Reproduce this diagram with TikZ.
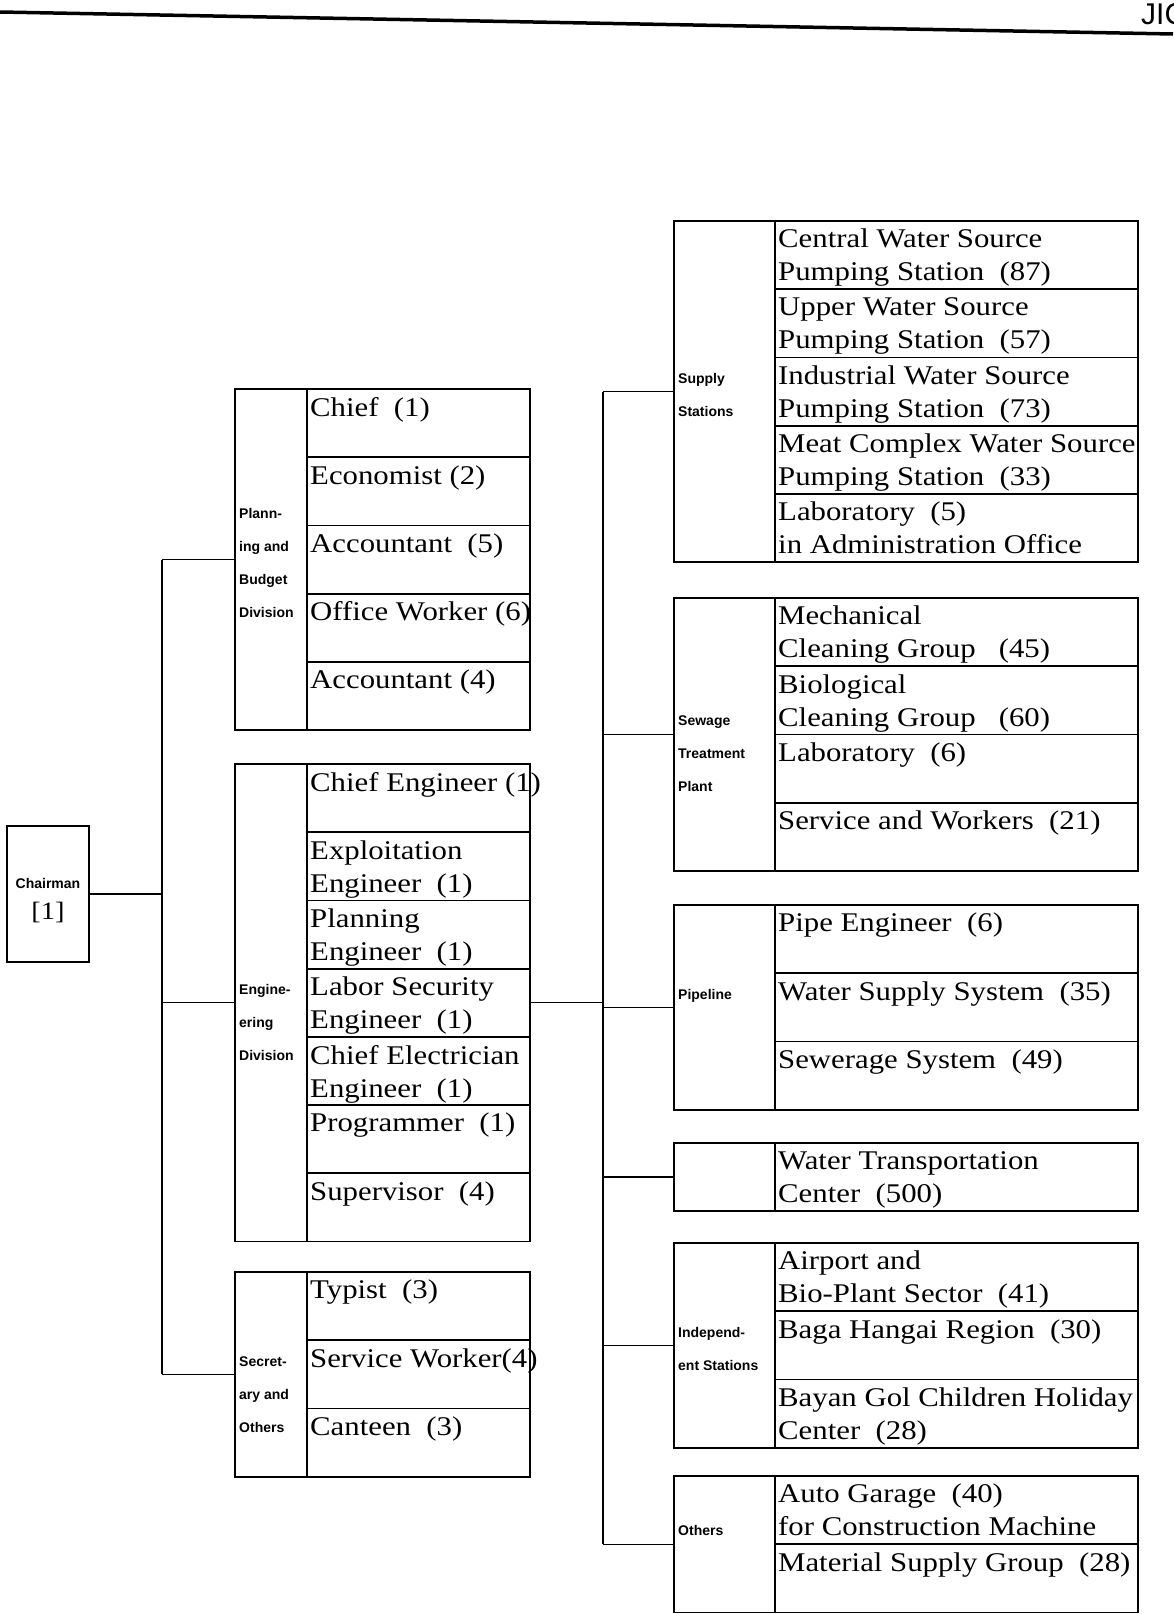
\documentclass[tikz,border=0pt]{standalone}
\usepackage{fontspec}
\setmainfont{Liberation Serif}[FakeStretch=1.14]
\newfontfamily\lblfont{Liberation Sans}
\usetikzlibrary{positioning}

\tikzset{
  conn/.style={line width=1.3pt},
  divbox/.style={draw, line width=1.8pt, anchor=north west, inner sep=0pt, outer sep=0pt, minimum width=72pt},
  divboxR/.style={divbox, minimum width=101pt},
  rowL/.style={draw, line width=1.8pt, inner sep=0pt, outer sep=0pt, minimum width=223pt, minimum height=68.2pt},
  rowR/.style={draw, line width=1.8pt, inner sep=0pt, outer sep=0pt, minimum width=363pt, minimum height=68.2pt},
  rtxt/.style={anchor=north west, inner sep=0pt, xshift=3pt, yshift=-8pt, align=left,
    font=\fontsize{27}{33}\selectfont},
  dlbl/.style={anchor=north west, inner sep=0pt, yshift=-14pt, align=left,
    font=\lblfont\bfseries\fontsize{14}{33}\selectfont},
}

\begin{document}
\begin{tikzpicture}[x=1pt, y=-1pt]
\useasboundingbox (0,0) rectangle (1173,1614);

% Cabecera
\draw[line width=3.5pt] (0,12) -- (1173,34);
\node[anchor=base west, inner sep=0pt, font=\lblfont\fontsize{30}{30}\selectfont] (logo) at (1141,24) {JICA};

% Presidente
\node[divbox, minimum width=82pt, minimum height=136pt] (chair) at (7,826) {};
\node[font=\lblfont\bfseries\fontsize{14}{16}\selectfont, inner sep=0pt] (chairt) at ([yshift=11pt]chair.center) {Chairman};
\node[font=\fontsize{25}{30}\selectfont, inner sep=0pt] (chairn) at ([yshift=-18pt]chair.center) {[1]};

% Planificacion
\node[divbox, minimum height=341pt] (plan) at (235,389) {};
\node[dlbl] (planl) at (239,494.4) {Plann-\\ing and\\Budget\\Division};
\node[rowL, anchor=north west] (plan1) at (plan.north east) {};
\node[rowL, below=0pt of plan1] (plan2) {};
\node[rowL, below=0pt of plan2] (plan3) {};
\node[rowL, below=0pt of plan3] (plan4) {};
\node[rowL, below=0pt of plan4] (plan5) {};
\node[rtxt] (plan1t) at (plan1.north west) {Chief~~(1)};
\node[rtxt] (plan2t) at (plan2.north west) {Economist (2)};
\node[rtxt] (plan3t) at (plan3.north west) {Accountant~~(5)};
\node[rtxt] (plan4t) at (plan4.north west) {Office Worker (6)};
\node[rtxt] (plan5t) at (plan5.north west) {Accountant (4)};

% Ingenieria
\node[divbox, minimum height=477.4pt] (eng) at (235,764) {};
\node[dlbl] (engl) at (239,970.6) {Engine-\\ering\\Division};
\node[rowL, anchor=north west] (eng1) at (eng.north east) {};
\node[rowL, below=0pt of eng1] (eng2) {};
\node[rowL, below=0pt of eng2] (eng3) {};
\node[rowL, below=0pt of eng3] (eng4) {};
\node[rowL, below=0pt of eng4] (eng5) {};
\node[rowL, below=0pt of eng5] (eng6) {};
\node[rowL, below=0pt of eng6] (eng7) {};
\node[rtxt] (eng1t) at (eng1.north west) {Chief Engineer (1)};
\node[rtxt] (eng2t) at (eng2.north west) {Exploitation\\Engineer~~(1)};
\node[rtxt] (eng3t) at (eng3.north west) {Planning\\Engineer~~(1)};
\node[rtxt] (eng4t) at (eng4.north west) {Labor Security\\Engineer~~(1)};
\node[rtxt] (eng5t) at (eng5.north west) {Chief Electrician\\Engineer~~(1)};
\node[rtxt] (eng6t) at (eng6.north west) {Programmer~~(1)};
\node[rtxt] (eng7t) at (eng7.north west) {Supervisor~~(4)};

% Secretaria
\node[divbox, minimum height=204.6pt] (sec) at (235,1272) {};
\node[dlbl] (secl) at (239,1342.2) {Secret-\\ary and\\Others};
\node[rowL, anchor=north west] (sec1) at (sec.north east) {};
\node[rowL, below=0pt of sec1] (sec2) {};
\node[rowL, below=0pt of sec2] (sec3) {};
\node[rtxt] (sec1t) at (sec1.north west) {Typist~~(3)};
\node[rtxt] (sec2t) at (sec2.north west) {Service Worker(4)};
\node[rtxt] (sec3t) at (sec3.north west) {Canteen~~(3)};

% Estaciones de suministro
\node[divboxR, minimum height=341pt] (sup) at (674,221) {};
\node[dlbl] (supl) at (678,359.4) {Supply\\Stations};
\node[rowR, anchor=north west] (sup1) at (sup.north east) {};
\node[rowR, below=0pt of sup1] (sup2) {};
\node[rowR, below=0pt of sup2] (sup3) {};
\node[rowR, below=0pt of sup3] (sup4) {};
\node[rowR, below=0pt of sup4] (sup5) {};
\node[rtxt] (sup1t) at (sup1.north west) {Central Water Source\\Pumping Station~~(87)};
\node[rtxt] (sup2t) at (sup2.north west) {Upper Water Source\\Pumping Station~~(57)};
\node[rtxt] (sup3t) at (sup3.north west) {Industrial Water Source\\Pumping Station~~(73)};
\node[rtxt] (sup4t) at (sup4.north west) {Meat Complex Water Source\\Pumping Station~~(33)};
\node[rtxt] (sup5t) at (sup5.north west) {Laboratory~~(5)\\in Administration Office};

% Planta de tratamiento
\node[divboxR, minimum height=272.8pt] (sew) at (674,598) {};
\node[dlbl] (sewl) at (678,701.2) {Sewage\\Treatment\\Plant};
\node[rowR, anchor=north west] (sew1) at (sew.north east) {};
\node[rowR, below=0pt of sew1] (sew2) {};
\node[rowR, below=0pt of sew2] (sew3) {};
\node[rowR, below=0pt of sew3] (sew4) {};
\node[rtxt] (sew1t) at (sew1.north west) {Mechanical\\Cleaning Group~~~(45)};
\node[rtxt] (sew2t) at (sew2.north west) {Biological\\Cleaning Group~~~(60)};
\node[rtxt] (sew3t) at (sew3.north west) {Laboratory~~(6)};
\node[rtxt] (sew4t) at (sew4.north west) {Service and Workers~~(21)};

% Tuberias
\node[divboxR, minimum height=204.6pt] (pip) at (674,905) {};
\node[dlbl] (pipl) at (678,975.2) {Pipeline};
\node[rowR, anchor=north west] (pip1) at (pip.north east) {};
\node[rowR, below=0pt of pip1] (pip2) {};
\node[rowR, below=0pt of pip2] (pip3) {};
\node[rtxt] (pip1t) at (pip1.north west) {Pipe Engineer~~(6)};
\node[rtxt] (pip2t) at (pip2.north west) {Water Supply System~~(35)};
\node[rtxt] (pip3t) at (pip3.north west) {Sewerage System~~(49)};

% Transporte de agua
\node[divboxR, minimum height=68.2pt] (wat) at (674,1143) {};
\node[rowR, anchor=north west] (wat1) at (wat.north east) {};
\node[rtxt] (wat1t) at (wat1.north west) {Water Transportation\\Center~~(500)};

% Estaciones independientes
\node[divboxR, minimum height=204.6pt] (ind) at (674,1243) {};
\node[dlbl] (indl) at (678,1313.2) {Independ-\\ent Stations};
\node[rowR, anchor=north west] (ind1) at (ind.north east) {};
\node[rowR, below=0pt of ind1] (ind2) {};
\node[rowR, below=0pt of ind2] (ind3) {};
\node[rtxt] (ind1t) at (ind1.north west) {Airport and\\Bio-Plant Sector~~(41)};
\node[rtxt] (ind2t) at (ind2.north west) {Baga Hangai Region~~(30)};
\node[rtxt] (ind3t) at (ind3.north west) {Bayan Gol Children Holiday\\Center~~(28)};

% Otros
\node[divboxR, minimum height=136.4pt] (oth) at (674,1476) {};
\node[dlbl] (othl) at (678,1511) {Others};
\node[rowR, anchor=north west] (oth1) at (oth.north east) {};
\node[rowR, below=0pt of oth1] (oth2) {};
\node[rtxt] (oth1t) at (oth1.north west) {Auto Garage~~(40)\\for Construction Machine};
\node[rtxt] (oth2t) at (oth2.north west) {Material Supply Group~~(28)};

% Conectores izquierda
\coordinate (tl) at (162,0);
\draw[conn] (chair.east) -- (chair.east -| tl);
\draw[conn] (plan.west -| tl) -- (sec.west -| tl);
\draw[conn] (plan.west -| tl) -- (plan.west);
\draw[conn] (eng.west -| tl) -- (eng.west);
\draw[conn] (sec.west -| tl) -- (sec.west);

% Conectores derecha
\coordinate (tr) at (603,0);
\draw[conn] (eng4.east) -- (eng4.east -| tr);
\draw[conn] (sup.west -| tr) -- (oth.west -| tr);
\draw[conn] (sup.west -| tr) -- (sup.west);
\draw[conn] (sew.west -| tr) -- (sew.west);
\draw[conn] (pip.west -| tr) -- (pip.west);
\draw[conn] (wat.west -| tr) -- (wat.west);
\draw[conn] (ind.west -| tr) -- (ind.west);
\draw[conn] (oth.west -| tr) -- (oth.west);
\end{tikzpicture}
\end{document}
